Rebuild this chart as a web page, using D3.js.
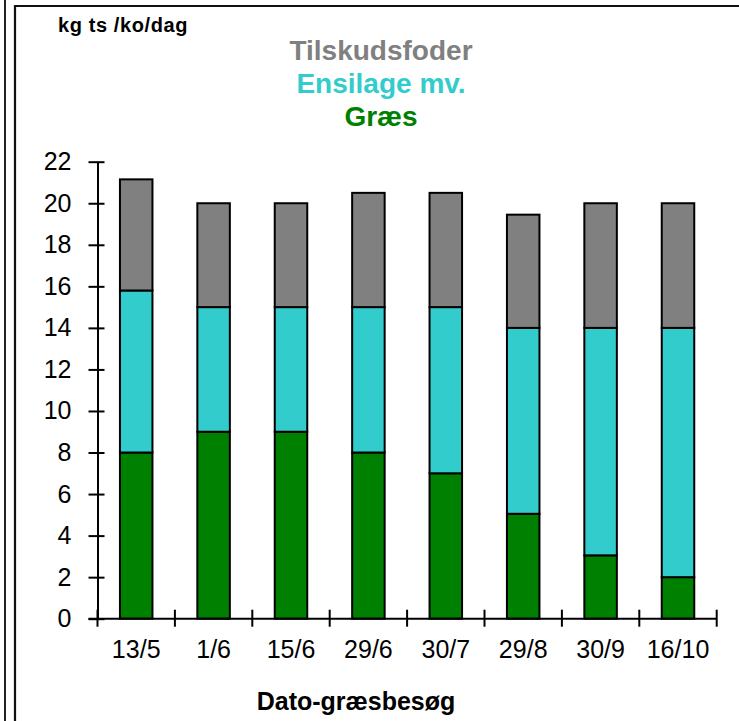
<!DOCTYPE html>
<html><head>
<meta charset="utf-8">
<script src="https://cdn.jsdelivr.net/npm/d3@7"></script>
<style>
  body { margin: 0; background: #fff; }
  svg text { font-family: "Liberation Sans", Arial, sans-serif; }
  .tick text { font-size: 25px; fill: #000; }
</style>
</head>
<body>
<script>
// chart data
var dates = ["13/5", "1/6", "15/6", "29/6", "30/7", "29/8", "30/9", "16/10"];
var graes = [8, 9, 9, 8, 7, 5.05, 3.05, 2];
var ensilage = [7.8, 6, 6, 7, 8, 8.95, 10.95, 12];
var tilskud = [5.35, 5, 5, 5.5, 5.5, 5.45, 6, 6];
var seriesNames = ["Græs", "Ensilage mv.", "Tilskudsfoder"];
var colors = ["#008000", "#33cccc", "#808080"];
var yTicks = [0, 2, 4, 6, 8, 10, 12, 14, 16, 18, 20, 22];

var svg = d3.select("body").append("svg")
    .attr("width", 739)
    .attr("height", 721);

// frame lines
svg.append("line").attr("x1", 5).attr("x2", 5).attr("y1", 0).attr("y2", 721)
    .attr("stroke", "#222").attr("stroke-width", 2);
svg.append("path").attr("d", "M15,721V6H739")
    .attr("fill", "none").attr("stroke", "#111").attr("stroke-width", 2.2);

var x0 = 97.5, x1 = 716.7;
var x = d3.scaleBand().domain(dates).range([x0, x1])
    .paddingInner(0.58).paddingOuter(0.29);
var y = d3.scaleLinear().domain([0, 22]).range([618.7, 161.7]);

// stack the three series
var rows = dates.map(function(d, i) {
    return { date: d, "Græs": graes[i], "Ensilage mv.": ensilage[i], "Tilskudsfoder": tilskud[i] };
});
var stacked = d3.stack().keys(seriesNames)(rows);

svg.selectAll("g.layer")
    .data(stacked)
    .enter().append("g")
    .attr("class", "layer")
    .attr("fill", function(d, i) { return colors[i]; })
    .selectAll("rect")
    .data(function(d) { return d; })
    .enter().append("rect")
    .attr("x", function(d) { return x(d.data.date); })
    .attr("width", x.bandwidth())
    .attr("y", function(d) { return y(d[1]); })
    .attr("height", function(d) { return y(d[0]) - y(d[1]); })
    .attr("stroke", "#000")
    .attr("stroke-width", 2);

// y axis, ticks crossing the line
var yAxis = svg.append("g")
    .attr("transform", "translate(" + x0 + ",0)")
    .call(d3.axisLeft(y).tickValues(yTicks).tickSizeInner(9).tickSizeOuter(0).tickPadding(17));
yAxis.select(".domain").attr("stroke-width", 2);
yAxis.selectAll(".tick line").attr("x1", 7).attr("stroke-width", 2);

// x axis: labels from band scale, ticks between categories
var xAxis = svg.append("g")
    .attr("transform", "translate(0," + y(0) + ")")
    .call(d3.axisBottom(x).tickSize(0).tickPadding(22));
xAxis.select(".domain").remove();

var step = x.step();
var xt = d3.range(dates.length + 1).map(function(i) { return x0 + i * step; });
svg.append("line")
    .attr("x1", x0 - 9).attr("x2", x1)
    .attr("y1", y(0)).attr("y2", y(0))
    .attr("stroke", "#000").attr("stroke-width", 2);
svg.selectAll("line.xtick").data(xt).enter().append("line")
    .attr("class", "xtick")
    .attr("x1", function(d) { return d; }).attr("x2", function(d) { return d; })
    .attr("y1", y(0) - 9).attr("y2", y(0) + 8)
    .attr("stroke", "#000").attr("stroke-width", 2);

// unit label
svg.append("text")
    .attr("x", 58).attr("y", 32)
    .attr("font-size", 20).attr("font-weight", "bold")
    .attr("letter-spacing", 0.6)
    .text("kg ts /ko/dag");

// legend as coloured text, top first
var legendOrder = [2, 1, 0];
svg.selectAll("text.legend").data(legendOrder).enter().append("text")
    .attr("class", "legend")
    .attr("x", 381)
    .attr("y", function(d, i) { return 60 + i * 33; })
    .attr("text-anchor", "middle")
    .attr("font-size", 28).attr("font-weight", "bold")
    .attr("fill", function(d) { return colors[d]; })
    .text(function(d) { return seriesNames[d]; });

// x axis title
svg.append("text")
    .attr("x", 356).attr("y", 710)
    .attr("text-anchor", "middle")
    .attr("font-size", 25).attr("font-weight", "bold")
    .text("Dato-græsbesøg");
</script>
</body></html>
